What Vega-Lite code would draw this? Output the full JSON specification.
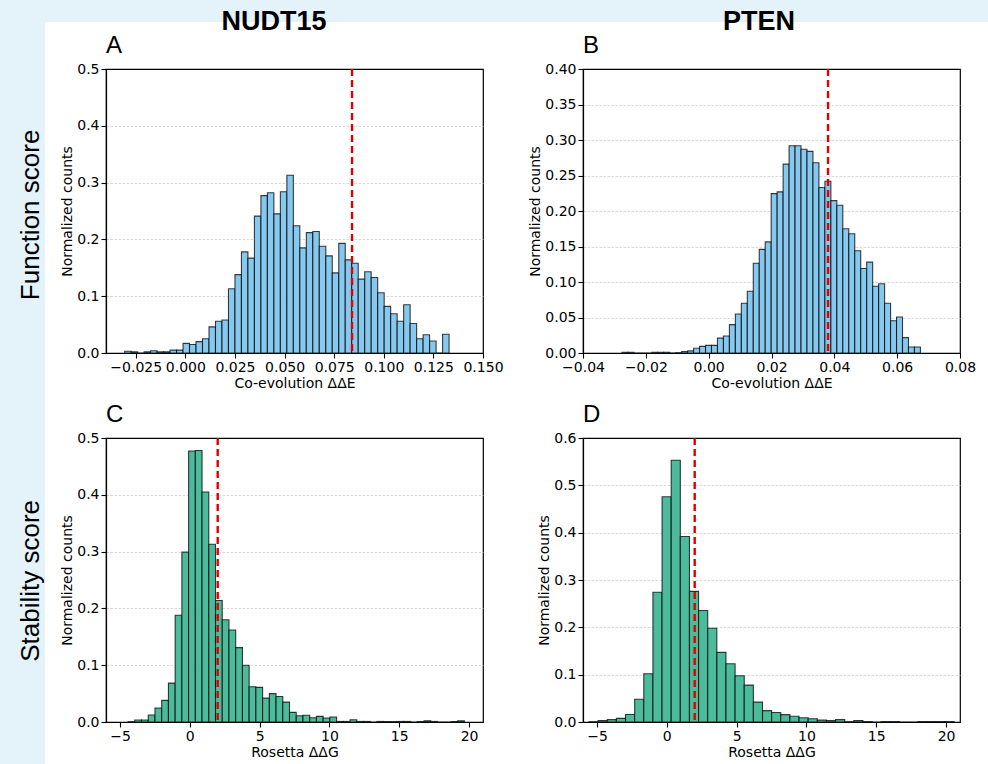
{
  "$schema": "https://vega.github.io/schema/vega-lite/v6.json",
  "background": "white",
  "padding": 0,
  "spacing": 0,
  "bounds": "flush",
  "vconcat": [
    {
      "width": 988,
      "height": 22,
      "view": {"fill": "#E4F2FA", "stroke": null},
      "data": {"values": [{"band": "top"}]},
      "mark": {"type": "text", "opacity": 0},
      "encoding": {"text": {"field": "band"}}
    },
    {
      "bounds": "flush",
      "spacing": 61,
      "hconcat": [
        {
          "width": 45,
          "height": 742,
          "view": {"fill": "#E4F2FA", "stroke": null},
          "data": {"values": [{"label": "Function score"}, {"label": "Stability score"}]},
          "mark": {"type": "text", "angle": 270, "font": "Liberation Sans", "fontSize": 26, "baseline": "middle", "align": "center", "dy": 8, "color": "black"},
          "encoding": {
            "y": {"field": "label", "type": "nominal", "axis": null, "sort": null, "scale": {"type": "point", "padding": 0.5137, "align": 0.513}},
            "text": {"field": "label"}
          }
        },
        {
          "bounds": "flush",
          "spacing": 45,
          "vconcat": [
            {
              "width": 854,
              "height": 2,
              "view": {"stroke": null},
              "data": {"values": [{"gene": "NUDT15"}, {"gene": "PTEN"}]},
              "mark": {"type": "text", "font": "Liberation Sans", "fontSize": 27, "fontWeight": "bold", "baseline": "middle", "align": "center", "dy": -1, "color": "black"},
              "encoding": {
                "x": {"field": "gene", "type": "nominal", "axis": null, "scale": {"type": "point", "padding": 0.3804, "align": 0.4553}},
                "text": {"field": "gene"}
              }
            },
            {
              "columns": 2,
              "bounds": "flush",
              "spacing": {"row": 85, "column": 100},
              "concat": [
                {
                  "width": 377,
                  "height": 284,
                  "title": "A",
                  "layer": [
                    {
                      "data": {"values": [
                        {"a": -0.0306, "b": -0.02733, "n": 0.003},
                        {"a": -0.02733, "b": -0.02406, "n": 0.002},
                        {"a": -0.02406, "b": -0.02079, "n": 0.0},
                        {"a": -0.02079, "b": -0.01752, "n": 0.002},
                        {"a": -0.01752, "b": -0.01425, "n": 0.004},
                        {"a": -0.01425, "b": -0.01098, "n": 0.002},
                        {"a": -0.01098, "b": -0.00771, "n": 0.002},
                        {"a": -0.00771, "b": -0.00444, "n": 0.005},
                        {"a": -0.00444, "b": -0.00117, "n": 0.005},
                        {"a": -0.00117, "b": 0.0021, "n": 0.017},
                        {"a": 0.0021, "b": 0.00537, "n": 0.015},
                        {"a": 0.00537, "b": 0.00864, "n": 0.020},
                        {"a": 0.00864, "b": 0.01191, "n": 0.025},
                        {"a": 0.01191, "b": 0.01518, "n": 0.046},
                        {"a": 0.01518, "b": 0.01845, "n": 0.056},
                        {"a": 0.01845, "b": 0.02172, "n": 0.058},
                        {"a": 0.02172, "b": 0.02499, "n": 0.113},
                        {"a": 0.02499, "b": 0.02826, "n": 0.138},
                        {"a": 0.02826, "b": 0.03153, "n": 0.178},
                        {"a": 0.03153, "b": 0.0348, "n": 0.167},
                        {"a": 0.0348, "b": 0.03807, "n": 0.241},
                        {"a": 0.03807, "b": 0.04134, "n": 0.277},
                        {"a": 0.04134, "b": 0.04461, "n": 0.282},
                        {"a": 0.04461, "b": 0.04788, "n": 0.245},
                        {"a": 0.04788, "b": 0.05115, "n": 0.284},
                        {"a": 0.05115, "b": 0.05442, "n": 0.313},
                        {"a": 0.05442, "b": 0.05769, "n": 0.224},
                        {"a": 0.05769, "b": 0.06096, "n": 0.185},
                        {"a": 0.06096, "b": 0.06423, "n": 0.212},
                        {"a": 0.06423, "b": 0.0675, "n": 0.214},
                        {"a": 0.0675, "b": 0.07077, "n": 0.188},
                        {"a": 0.07077, "b": 0.07404, "n": 0.171},
                        {"a": 0.07404, "b": 0.07731, "n": 0.141},
                        {"a": 0.07731, "b": 0.08058, "n": 0.193},
                        {"a": 0.08058, "b": 0.08385, "n": 0.164},
                        {"a": 0.08385, "b": 0.08712, "n": 0.158},
                        {"a": 0.08712, "b": 0.09039, "n": 0.130},
                        {"a": 0.09039, "b": 0.09366, "n": 0.143},
                        {"a": 0.09366, "b": 0.09693, "n": 0.133},
                        {"a": 0.09693, "b": 0.1002, "n": 0.106},
                        {"a": 0.1002, "b": 0.10347, "n": 0.082},
                        {"a": 0.10347, "b": 0.10674, "n": 0.069},
                        {"a": 0.10674, "b": 0.11001, "n": 0.056},
                        {"a": 0.11001, "b": 0.11328, "n": 0.085},
                        {"a": 0.11328, "b": 0.11655, "n": 0.052},
                        {"a": 0.11655, "b": 0.11982, "n": 0.025},
                        {"a": 0.11982, "b": 0.12309, "n": 0.032},
                        {"a": 0.12309, "b": 0.12636, "n": 0.021},
                        {"a": 0.12636, "b": 0.12963, "n": 0.0},
                        {"a": 0.12963, "b": 0.1329, "n": 0.033}
                      ]},
                      "mark": {"type": "bar", "fill": "#86C8EE", "stroke": "#000000", "strokeOpacity": 0.75, "strokeWidth": 1.1},
                      "encoding": {
                        "x": {"field": "a", "type": "quantitative", "scale": {"domain": [-0.04, 0.15], "nice": false, "zero": false}, "axis": {"title": "Co-evolution ΔΔE", "values": [-0.025, 0, 0.025, 0.05, 0.075, 0.1, 0.125, 0.15], "format": ".3f"}},
                        "x2": {"field": "b"},
                        "y": {"field": "n", "type": "quantitative", "scale": {"domain": [0, 0.5], "nice": false}, "axis": {"title": "Normalized counts", "values": [0, 0.1, 0.2, 0.3, 0.4, 0.5], "format": ".1f", "gridOpacity": {"condition": {"test": "datum.value >= 0.499 || datum.value == 0", "value": 0}, "value": 1}}},
                        "y2": {"datum": 0}
                      }
                    },
                    {
                      "data": {"values": [{"t": 0.084}]},
                      "mark": {"type": "rule", "color": "#e00000", "strokeDash": [7, 4], "strokeWidth": 2.4},
                      "encoding": {"x": {"field": "t", "type": "quantitative"}}
                    }
                  ]
                },
                {
                  "width": 377,
                  "height": 284,
                  "title": "B",
                  "layer": [
                    {
                      "data": {"values": [
                        {"a": -0.0276, "b": -0.0257, "n": 0.001},
                        {"a": -0.0257, "b": -0.0238, "n": 0.001},
                        {"a": -0.0238, "b": -0.0219, "n": 0.0},
                        {"a": -0.0219, "b": -0.0200, "n": 0.0},
                        {"a": -0.0200, "b": -0.0181, "n": 0.0},
                        {"a": -0.0181, "b": -0.0162, "n": 0.001},
                        {"a": -0.0162, "b": -0.0143, "n": 0.001},
                        {"a": -0.0143, "b": -0.0124, "n": 0.001},
                        {"a": -0.0124, "b": -0.0105, "n": 0.0},
                        {"a": -0.0105, "b": -0.0086, "n": 0.0005},
                        {"a": -0.0086, "b": -0.0067, "n": 0.002},
                        {"a": -0.0067, "b": -0.0048, "n": 0.003},
                        {"a": -0.0048, "b": -0.0029, "n": 0.0066},
                        {"a": -0.0029, "b": -0.0010, "n": 0.0094},
                        {"a": -0.0010, "b": 0.0009, "n": 0.0108},
                        {"a": 0.0009, "b": 0.0028, "n": 0.0108},
                        {"a": 0.0028, "b": 0.0047, "n": 0.021},
                        {"a": 0.0047, "b": 0.0066, "n": 0.024},
                        {"a": 0.0066, "b": 0.0085, "n": 0.040},
                        {"a": 0.0085, "b": 0.0104, "n": 0.055},
                        {"a": 0.0104, "b": 0.0123, "n": 0.070},
                        {"a": 0.0123, "b": 0.0142, "n": 0.087},
                        {"a": 0.0142, "b": 0.0161, "n": 0.1265},
                        {"a": 0.0161, "b": 0.0180, "n": 0.146},
                        {"a": 0.0180, "b": 0.0199, "n": 0.1565},
                        {"a": 0.0199, "b": 0.0218, "n": 0.2245},
                        {"a": 0.0218, "b": 0.0237, "n": 0.227},
                        {"a": 0.0237, "b": 0.0256, "n": 0.266},
                        {"a": 0.0256, "b": 0.0275, "n": 0.292},
                        {"a": 0.0275, "b": 0.0294, "n": 0.292},
                        {"a": 0.0294, "b": 0.0313, "n": 0.287},
                        {"a": 0.0313, "b": 0.0332, "n": 0.284},
                        {"a": 0.0332, "b": 0.0351, "n": 0.268},
                        {"a": 0.0351, "b": 0.0370, "n": 0.233},
                        {"a": 0.0370, "b": 0.0389, "n": 0.242},
                        {"a": 0.0389, "b": 0.0408, "n": 0.2146},
                        {"a": 0.0408, "b": 0.0427, "n": 0.208},
                        {"a": 0.0427, "b": 0.0446, "n": 0.175},
                        {"a": 0.0446, "b": 0.0465, "n": 0.168},
                        {"a": 0.0465, "b": 0.0484, "n": 0.144},
                        {"a": 0.0484, "b": 0.0503, "n": 0.119},
                        {"a": 0.0503, "b": 0.0522, "n": 0.128},
                        {"a": 0.0522, "b": 0.0541, "n": 0.094},
                        {"a": 0.0541, "b": 0.0560, "n": 0.0975},
                        {"a": 0.0560, "b": 0.0579, "n": 0.070},
                        {"a": 0.0579, "b": 0.0598, "n": 0.0455},
                        {"a": 0.0598, "b": 0.0617, "n": 0.0506},
                        {"a": 0.0617, "b": 0.0636, "n": 0.0216},
                        {"a": 0.0636, "b": 0.0655, "n": 0.0084},
                        {"a": 0.0655, "b": 0.0674, "n": 0.0084}
                      ]},
                      "mark": {"type": "bar", "fill": "#86C8EE", "stroke": "#000000", "strokeOpacity": 0.75, "strokeWidth": 1.1},
                      "encoding": {
                        "x": {"field": "a", "type": "quantitative", "scale": {"domain": [-0.04, 0.08], "nice": false, "zero": false}, "axis": {"title": "Co-evolution ΔΔE", "values": [-0.04, -0.02, 0, 0.02, 0.04, 0.06, 0.08], "format": ".2f"}},
                        "x2": {"field": "b"},
                        "y": {"field": "n", "type": "quantitative", "scale": {"domain": [0, 0.4], "nice": false}, "axis": {"title": "Normalized counts", "values": [0, 0.05, 0.1, 0.15, 0.2, 0.25, 0.3, 0.35, 0.4], "format": ".2f", "gridOpacity": {"condition": {"test": "datum.value >= 0.399 || datum.value == 0", "value": 0}, "value": 1}}},
                        "y2": {"datum": 0}
                      }
                    },
                    {
                      "data": {"values": [{"t": 0.038}]},
                      "mark": {"type": "rule", "color": "#e00000", "strokeDash": [7, 4], "strokeWidth": 2.4},
                      "encoding": {"x": {"field": "t", "type": "quantitative"}}
                    }
                  ]
                },
                {
                  "width": 377,
                  "height": 284,
                  "title": "C",
                  "layer": [
                    {
                      "data": {"values": [
                        {"a": -4.42, "b": -3.938, "n": 0.0006},
                        {"a": -3.938, "b": -3.456, "n": 0.0035},
                        {"a": -3.456, "b": -2.975, "n": 0.0035},
                        {"a": -2.975, "b": -2.493, "n": 0.0123},
                        {"a": -2.493, "b": -2.011, "n": 0.0246},
                        {"a": -2.011, "b": -1.529, "n": 0.038},
                        {"a": -1.529, "b": -1.047, "n": 0.0685},
                        {"a": -1.047, "b": -0.566, "n": 0.188},
                        {"a": -0.566, "b": -0.084, "n": 0.299},
                        {"a": -0.084, "b": 0.398, "n": 0.477},
                        {"a": 0.398, "b": 0.880, "n": 0.478},
                        {"a": 0.880, "b": 1.362, "n": 0.405},
                        {"a": 1.362, "b": 1.843, "n": 0.313},
                        {"a": 1.843, "b": 2.325, "n": 0.214},
                        {"a": 2.325, "b": 2.807, "n": 0.180},
                        {"a": 2.807, "b": 3.289, "n": 0.162},
                        {"a": 3.289, "b": 3.771, "n": 0.131},
                        {"a": 3.771, "b": 4.252, "n": 0.100},
                        {"a": 4.252, "b": 4.734, "n": 0.062},
                        {"a": 4.734, "b": 5.216, "n": 0.061},
                        {"a": 5.216, "b": 5.698, "n": 0.042},
                        {"a": 5.698, "b": 6.180, "n": 0.050},
                        {"a": 6.180, "b": 6.661, "n": 0.045},
                        {"a": 6.661, "b": 7.143, "n": 0.035},
                        {"a": 7.143, "b": 7.625, "n": 0.017},
                        {"a": 7.625, "b": 8.107, "n": 0.011},
                        {"a": 8.107, "b": 8.589, "n": 0.012},
                        {"a": 8.589, "b": 9.070, "n": 0.0076},
                        {"a": 9.070, "b": 9.552, "n": 0.0099},
                        {"a": 9.552, "b": 10.034, "n": 0.007},
                        {"a": 10.034, "b": 10.516, "n": 0.0088},
                        {"a": 10.516, "b": 10.998, "n": 0.001},
                        {"a": 10.998, "b": 11.479, "n": 0.001},
                        {"a": 11.479, "b": 11.961, "n": 0.004},
                        {"a": 11.961, "b": 12.443, "n": 0.001},
                        {"a": 12.443, "b": 12.925, "n": 0.001},
                        {"a": 12.925, "b": 13.407, "n": 0.0},
                        {"a": 13.407, "b": 13.888, "n": 0.001},
                        {"a": 13.888, "b": 14.370, "n": 0.001},
                        {"a": 14.370, "b": 14.852, "n": 0.001},
                        {"a": 14.852, "b": 15.334, "n": 0.001},
                        {"a": 15.334, "b": 15.816, "n": 0.001},
                        {"a": 15.816, "b": 16.297, "n": 0.0},
                        {"a": 16.297, "b": 16.779, "n": 0.001},
                        {"a": 16.779, "b": 17.261, "n": 0.002},
                        {"a": 17.261, "b": 17.743, "n": 0.001},
                        {"a": 17.743, "b": 18.225, "n": 0.0},
                        {"a": 18.225, "b": 18.706, "n": 0.0},
                        {"a": 18.706, "b": 19.188, "n": 0.001},
                        {"a": 19.188, "b": 19.670, "n": 0.002}
                      ]},
                      "mark": {"type": "bar", "fill": "#4CBB9B", "stroke": "#000000", "strokeOpacity": 0.75, "strokeWidth": 1.1},
                      "encoding": {
                        "x": {"field": "a", "type": "quantitative", "scale": {"domain": [-6, 21], "nice": false, "zero": false}, "axis": {"title": "Rosetta ΔΔG", "values": [-5, 0, 5, 10, 15, 20], "format": "d"}},
                        "x2": {"field": "b"},
                        "y": {"field": "n", "type": "quantitative", "scale": {"domain": [0, 0.5], "nice": false}, "axis": {"title": "Normalized counts", "values": [0, 0.1, 0.2, 0.3, 0.4, 0.5], "format": ".1f", "gridOpacity": {"condition": {"test": "datum.value >= 0.499 || datum.value == 0", "value": 0}, "value": 1}}},
                        "y2": {"datum": 0}
                      }
                    },
                    {
                      "data": {"values": [{"t": 2.0}]},
                      "mark": {"type": "rule", "color": "#e00000", "strokeDash": [7, 4], "strokeWidth": 2.4},
                      "encoding": {"x": {"field": "t", "type": "quantitative"}}
                    }
                  ]
                },
                {
                  "width": 377,
                  "height": 284,
                  "title": "D",
                  "layer": [
                    {
                      "data": {"values": [
                        {"a": -5.57, "b": -4.916, "n": 0.0007},
                        {"a": -4.916, "b": -4.262, "n": 0.003},
                        {"a": -4.262, "b": -3.608, "n": 0.005},
                        {"a": -3.608, "b": -2.954, "n": 0.0077},
                        {"a": -2.954, "b": -2.300, "n": 0.016},
                        {"a": -2.300, "b": -1.646, "n": 0.048},
                        {"a": -1.646, "b": -0.992, "n": 0.102},
                        {"a": -0.992, "b": -0.338, "n": 0.274},
                        {"a": -0.338, "b": 0.316, "n": 0.476},
                        {"a": 0.316, "b": 0.970, "n": 0.553},
                        {"a": 0.970, "b": 1.624, "n": 0.392},
                        {"a": 1.624, "b": 2.278, "n": 0.276},
                        {"a": 2.278, "b": 2.932, "n": 0.2356},
                        {"a": 2.932, "b": 3.586, "n": 0.198},
                        {"a": 3.586, "b": 4.240, "n": 0.147},
                        {"a": 4.240, "b": 4.894, "n": 0.123},
                        {"a": 4.894, "b": 5.548, "n": 0.0977},
                        {"a": 5.548, "b": 6.202, "n": 0.078},
                        {"a": 6.202, "b": 6.856, "n": 0.042},
                        {"a": 6.856, "b": 7.510, "n": 0.024},
                        {"a": 7.510, "b": 8.164, "n": 0.020},
                        {"a": 8.164, "b": 8.818, "n": 0.0155},
                        {"a": 8.818, "b": 9.472, "n": 0.012},
                        {"a": 9.472, "b": 10.126, "n": 0.009},
                        {"a": 10.126, "b": 10.780, "n": 0.007},
                        {"a": 10.780, "b": 11.434, "n": 0.004},
                        {"a": 11.434, "b": 12.088, "n": 0.003},
                        {"a": 12.088, "b": 12.742, "n": 0.005},
                        {"a": 12.742, "b": 13.396, "n": 0.0007},
                        {"a": 13.396, "b": 14.050, "n": 0.003},
                        {"a": 14.050, "b": 14.704, "n": 0.001},
                        {"a": 14.704, "b": 15.358, "n": 0.0},
                        {"a": 15.358, "b": 16.012, "n": 0.001},
                        {"a": 16.012, "b": 16.666, "n": 0.001},
                        {"a": 16.666, "b": 17.320, "n": 0.0},
                        {"a": 17.320, "b": 17.974, "n": 0.0},
                        {"a": 17.974, "b": 18.628, "n": 0.001},
                        {"a": 18.628, "b": 19.282, "n": 0.001},
                        {"a": 19.282, "b": 19.936, "n": 0.001},
                        {"a": 19.936, "b": 20.590, "n": 0.001}
                      ]},
                      "mark": {"type": "bar", "fill": "#4CBB9B", "stroke": "#000000", "strokeOpacity": 0.75, "strokeWidth": 1.1},
                      "encoding": {
                        "x": {"field": "a", "type": "quantitative", "scale": {"domain": [-6, 21], "nice": false, "zero": false}, "axis": {"title": "Rosetta ΔΔG", "values": [-5, 0, 5, 10, 15, 20], "format": "d"}},
                        "x2": {"field": "b"},
                        "y": {"field": "n", "type": "quantitative", "scale": {"domain": [0, 0.6], "nice": false}, "axis": {"title": "Normalized counts", "values": [0, 0.1, 0.2, 0.3, 0.4, 0.5, 0.6], "format": ".1f", "gridOpacity": {"condition": {"test": "datum.value >= 0.599 || datum.value == 0", "value": 0}, "value": 1}}},
                        "y2": {"datum": 0}
                      }
                    },
                    {
                      "data": {"values": [{"t": 2.0}]},
                      "mark": {"type": "rule", "color": "#e00000", "strokeDash": [7, 4], "strokeWidth": 2.4},
                      "encoding": {"x": {"field": "t", "type": "quantitative"}}
                    }
                  ]
                }
              ]
            }
          ]
        }
      ]
    }
  ],
  "config": {
    "view": {"stroke": "black", "strokeWidth": 1.2},
    "axis": {
      "domainColor": "black", "domainWidth": 1.2,
      "tickColor": "black", "tickWidth": 1.1, "tickSize": 5,
      "labelColor": "black", "labelFont": "DejaVu Sans", "labelFontSize": 14, "labelPadding": 2,
      "labelOverlap": false, "labelFlush": false,
      "titleColor": "black", "titleFont": "DejaVu Sans", "titleFontSize": 14, "titleFontWeight": "normal", "titlePadding": 2,
      "gridColor": "#cfcfcf", "gridDash": [2.5, 1.5], "gridWidth": 0.8
    },
    "axisX": {"grid": false},
    "axisY": {"grid": true},
    "title": {"font": "Liberation Sans", "fontSize": 24, "fontWeight": "normal", "anchor": "start", "frame": "group", "color": "black", "offset": 4}
  }
}
